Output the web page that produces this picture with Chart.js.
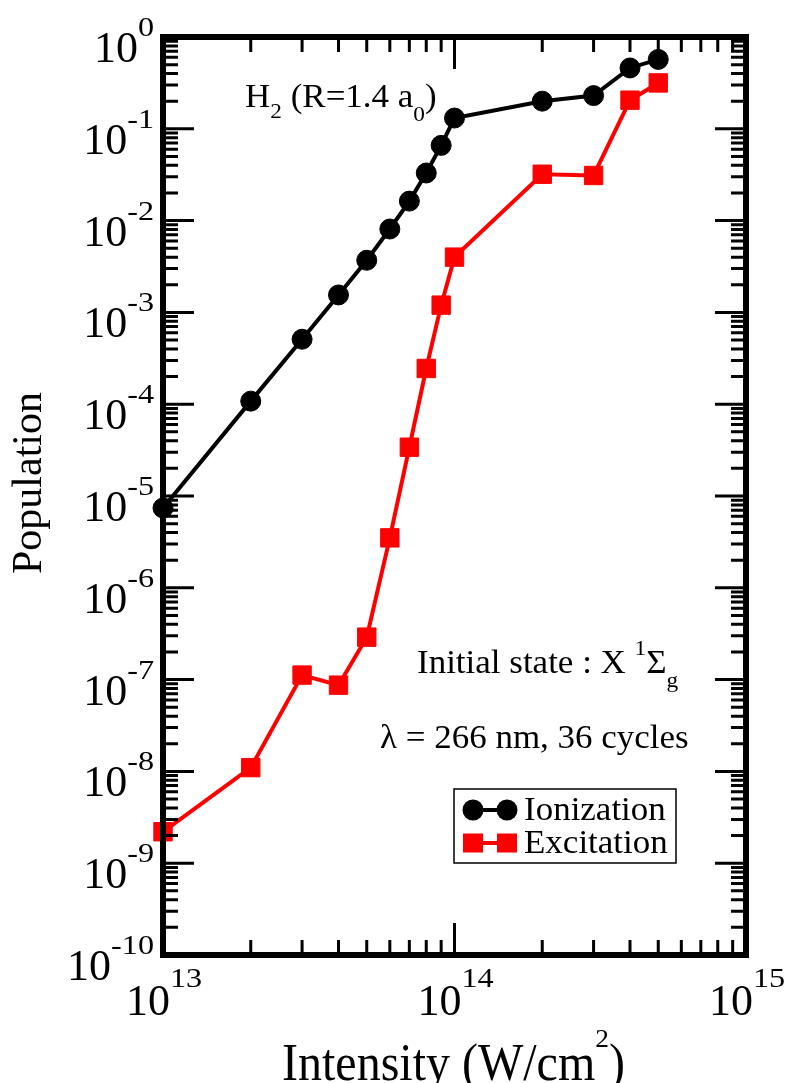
<!DOCTYPE html>
<html>
<head>
<meta charset="utf-8">
<script src="https://cdn.jsdelivr.net/npm/chart.js@4/dist/chart.umd.min.js"></script>
<style>
html, body { margin: 0; padding: 0; background: #fff; }
canvas { display: block; }
</style>
</head>
<body>
<canvas id="c" width="789" height="1083"></canvas>
<script>
// Laser intensity (W/cm^2)
const intensity = [1e13, 2e13, 3e13, 4e13, 5e13, 6e13, 7e13, 8e13, 9e13, 1e14, 2e14, 3e14, 4e14, 5e14];
// Final-state populations
const ionization = [7.4e-6, 1.08e-4, 5.1e-4, 1.55e-3, 3.7e-3, 8.1e-3, 1.63e-2, 3.3e-2, 6.6e-2, 0.131, 0.20, 0.23, 0.46, 0.57];
const excitation = [2.2e-9, 1.1e-8, 1.12e-7, 8.7e-8, 2.9e-7, 3.5e-6, 3.4e-5, 2.45e-4, 1.2e-3, 4.0e-3, 0.032, 0.031, 0.205, 0.316];
const seriesNames = ['Ionization', 'Excitation'];
const seriesColors = ['#000000', '#ff0000'];
// Decade exponents used for the axis labels
const xDecades = ['13', '14', '15'];
const yDecades = ['0', '-1', '-2', '-3', '-4', '-5', '-6', '-7', '-8', '-9', '-10'];

const FONT = '"Liberation Serif", "Times New Roman", "DejaVu Serif", serif';

function setFont(ctx, size) { ctx.font = size + 'px ' + FONT; }
function textWidth(ctx, s, size, sx) {
  ctx.save(); setFont(ctx, size);
  const w = ctx.measureText(s).width * (sx || 1);
  ctx.restore(); return w;
}
// Draw a run of text pieces (base / super / subscript) starting at x, baseline y
function drawRuns(ctx, runs, x, y) {
  let cx = x;
  for (const r of runs) {
    const size = r.size, sx = r.sx || 1, sy = r.sy || 1;
    ctx.save();
    setFont(ctx, size);
    ctx.fillStyle = '#000';
    ctx.textAlign = 'left';
    ctx.textBaseline = 'alphabetic';
    ctx.translate(cx, y + (r.dy || 0));
    ctx.scale(sx, sy);
    ctx.fillText(r.t, 0, 0);
    ctx.restore();
    cx += textWidth(ctx, r.t, size, sx);
  }
  return cx;
}

const pts = (ys) => intensity.map((x, i) => ({ x: x, y: ys[i] }));

// Frame, inward ticks on all four sides, decade labels, annotations and legend
const decorations = {
  id: 'decorations',
  afterDatasetsDraw(chart) {
    const ctx = chart.ctx;
    const a = chart.chartArea;
    const xs = chart.scales.x, ys = chart.scales.y;

    ctx.save();
    ctx.strokeStyle = '#000';
    ctx.lineCap = 'butt';

    // y ticks (left and right)
    ctx.lineWidth = 3;
    for (const e of yDecades) {
      const p = Number(e);
      for (let k = 1; k <= 9; k++) {
        const v = k * Math.pow(10, p);
        if (v > ys.max * 1.0001 || v < ys.min * 0.9999) continue;
        const y = ys.getPixelForValue(v);
        const len = k === 1 ? 31 : 15;
        ctx.beginPath();
        ctx.moveTo(a.left, y); ctx.lineTo(a.left + len, y);
        ctx.moveTo(a.right, y); ctx.lineTo(a.right - len, y);
        ctx.stroke();
      }
    }
    // x ticks (bottom and top)
    for (const e of xDecades) {
      const p = Number(e);
      for (let k = 1; k <= 9; k++) {
        const v = k * Math.pow(10, p);
        if (v > xs.max * 1.0001 || v < xs.min * 0.9999) continue;
        const x = xs.getPixelForValue(v);
        const len = k === 1 ? 32 : 15;
        ctx.beginPath();
        ctx.moveTo(x, a.bottom); ctx.lineTo(x, a.bottom - len);
        ctx.moveTo(x, a.top); ctx.lineTo(x, a.top + len);
        ctx.stroke();
      }
    }
    // frame
    ctx.lineWidth = 6;
    ctx.strokeRect(a.left, a.top, a.right - a.left, a.bottom - a.top);
    ctx.restore();

    // y decade labels
    const BASE = 44, EXP = 28, ESX = 1.15;
    for (const e of yDecades) {
      const y = ys.getPixelForValue(Math.pow(10, Number(e)));
      const right = a.left - 9;
      const ew = textWidth(ctx, e, EXP, ESX);
      const bw = textWidth(ctx, '10', BASE);
      drawRuns(ctx, [{ t: '10', size: BASE }], right - ew - bw, y + 25);
      drawRuns(ctx, [{ t: e, size: EXP, sx: ESX }], right - ew, y - 1);
    }
    // x decade labels
    for (const e of xDecades) {
      const x = xs.getPixelForValue(Math.pow(10, Number(e)));
      const ew = textWidth(ctx, e, EXP, ESX);
      const bw = textWidth(ctx, '10', BASE);
      const start = x - (bw + ew) / 2 + 1;
      drawRuns(ctx, [{ t: '10', size: BASE }], start, a.bottom + 60);
      drawRuns(ctx, [{ t: e, size: EXP, sx: ESX }], start + bw, a.bottom + 32);
    }

    // axis titles
    drawRuns(ctx, [
      { t: 'Intensity (W/cm', size: 48, sy: 1.08 },
      { t: '2', size: 25, sx: 1.1, dy: -33 },
      { t: ')', size: 48, sy: 1.08 }
    ], 282, 1080);

    ctx.save();
    setFont(ctx, 42);
    ctx.fillStyle = '#000';
    ctx.textAlign = 'center';
    ctx.textBaseline = 'alphabetic';
    ctx.translate(41, 483);
    ctx.rotate(-Math.PI / 2);
    ctx.fillText('Population', 0, 0);
    ctx.restore();

    // annotations
    const AN = 33, AS = 1.06, SUB = 22;
    drawRuns(ctx, [
      { t: 'H', size: AN, sx: AS },
      { t: '2', size: SUB, sx: AS, dy: 11 },
      { t: ' (R=1.4 a', size: AN, sx: AS },
      { t: '0', size: SUB, sx: AS, dy: 14 },
      { t: ')', size: AN, sx: AS }
    ], 245, 107);
    drawRuns(ctx, [
      { t: 'Initial state : X ', size: AN, sx: AS },
      { t: '1', size: SUB, sx: AS, dy: -18 },
      { t: '\u03A3', size: AN, sx: AS },
      { t: 'g', size: SUB, sx: AS, dy: 14 }
    ], 417, 673);
    drawRuns(ctx, [
      { t: '\u03BB = 266 nm, 36 cycles', size: AN, sx: 1.06 }
    ], 380, 748);

    // legend
    const lx = 454, ly = 789, lw = 222, lh = 74;
    ctx.save();
    ctx.fillStyle = '#fff';
    ctx.fillRect(lx, ly, lw, lh);
    ctx.strokeStyle = '#000';
    ctx.lineWidth = 1.5;
    ctx.strokeRect(lx, ly, lw, lh);
    const rows = [810, 843];
    chart.data.datasets.forEach((ds, i) => {
      const y = rows[i];
      ctx.strokeStyle = ds.borderColor;
      ctx.fillStyle = ds.backgroundColor;
      ctx.lineWidth = 4;
      ctx.beginPath(); ctx.moveTo(473, y); ctx.lineTo(507, y); ctx.stroke();
      for (const cx of [473, 507]) {
        if (ds.pointStyle === 'circle') {
          ctx.beginPath(); ctx.arc(cx, y, 10.5, 0, Math.PI * 2); ctx.fill();
        } else {
          ctx.fillRect(cx - 10, y - 9.5, 20, 19);
        }
      }
    });
    ctx.restore();
    drawRuns(ctx, [{ t: seriesNames[0], size: AN, sx: AS }], 524, 820);
    drawRuns(ctx, [{ t: seriesNames[1], size: AN, sx: AS }], 524, 853);
  }
};

new Chart(document.getElementById('c'), {
  type: 'line',
  data: {
    datasets: [
      {
        label: seriesNames[0],
        data: pts(ionization),
        borderColor: seriesColors[0],
        backgroundColor: seriesColors[0],
        borderWidth: 4,
        pointStyle: 'circle',
        pointRadius: 10,
        pointBorderWidth: 1,
        tension: 0,
        clip: false
      },
      {
        label: seriesNames[1],
        data: pts(excitation),
        borderColor: seriesColors[1],
        backgroundColor: seriesColors[1],
        borderWidth: 4,
        pointStyle: 'rect',
        pointRadius: 13,
        pointBorderWidth: 1,
        tension: 0,
        clip: false
      }
    ]
  },
  options: {
    responsive: false,
    animation: false,
    devicePixelRatio: 1,
    events: [],
    layout: { padding: { left: 163, right: 43, top: 37, bottom: 128 } },
    scales: {
      x: { type: 'logarithmic', min: 1e13, max: 1e15, display: false },
      y: { type: 'logarithmic', min: 1e-10, max: 1, display: false }
    },
    plugins: { legend: { display: false }, tooltip: { enabled: false } }
  },
  plugins: [decorations]
});
</script>
</body>
</html>
